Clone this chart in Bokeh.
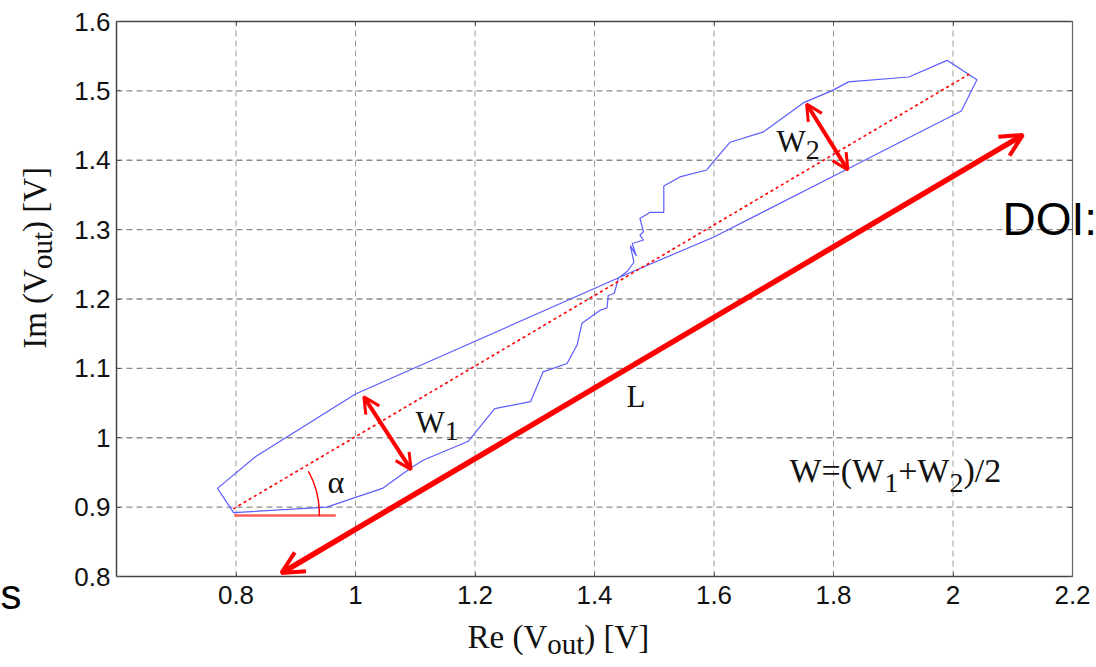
from bokeh.plotting import figure
from bokeh.models import (Range1d, LinearAxis, FixedTicker, CustomJSTickFormatter,
                          Label, Arrow, OpenHead)
from bokeh.embed import file_html
from bokeh.resources import INLINE

# ---------------- data ----------------
x_ticks = [0.8, 1.0, 1.2, 1.4, 1.6, 1.8, 2.0, 2.2]
x_tick_labels = ["0.8", "1", "1.2", "1.4", "1.6", "1.8", "2", "2.2"]
y_ticks = [0.8, 0.9, 1.0, 1.1, 1.2, 1.3, 1.4, 1.5, 1.6]
y_tick_labels = ["0.8", "0.9", "1", "1.1", "1.2", "1.3", "1.4", "1.5", "1.6"]
x_limits = [0.6, 2.2]
y_limits = [0.8, 1.6]

# measured V_out trajectory (Re, Im)
loop_re = [0.796, 0.952, 1.000, 1.045, 1.092, 1.114, 1.189, 1.233, 1.293, 1.314,
           1.354, 1.371, 1.379, 1.410, 1.421, 1.423, 1.433, 1.435, 1.440, 1.455,
           1.466, 1.460, 1.470, 1.463, 1.482, 1.476, 1.482, 1.476, 1.493, 1.516,
           1.516, 1.543, 1.588, 1.602, 1.627, 1.683, 1.750, 1.797, 1.825, 1.926,
           1.990, 2.040, 2.014, 1.825, 1.599, 1.468, 1.000, 0.833, 0.769, 0.796]
loop_im = [0.892, 0.900, 0.914, 0.927, 0.956, 0.968, 0.995, 1.042, 1.052, 1.095,
           1.107, 1.134, 1.165, 1.184, 1.187, 1.205, 1.208, 1.214, 1.230, 1.240,
           1.253, 1.277, 1.262, 1.280, 1.285, 1.292, 1.297, 1.316, 1.325, 1.325,
           1.363, 1.376, 1.386, 1.401, 1.426, 1.441, 1.483, 1.500, 1.513, 1.520,
           1.544, 1.516, 1.471, 1.388, 1.289, 1.241, 1.063, 0.973, 0.927, 0.892]

# principal axis (dotted) of the trajectory
axis_re = [0.7955, 2.027]
axis_im = [0.8975, 1.524]

# horizontal reference for the angle alpha
ref_re = [0.797, 0.967]
ref_im = [0.888, 0.888]
alpha_center_re = [0.7955]
alpha_center_im = [0.8912]

# arrows: W1, W2 and L  (start re, start im, end re, end im)
w1_arrow = [1.014, 1.059, 1.093, 0.954]
w2_arrow = [1.755, 1.481, 1.824, 1.386]
l_arrow = [0.876, 0.805, 2.117, 1.4365]

# ---------------- layout: page pixel <-> data ----------------
W, H = 1096, 667
PX0, SX = 116.0, 597.5      # page x of Re=0.6, pixels per volt
PY0, SY = 21.0, 693.75      # page y of Im=1.6, pixels per volt


def dx(px):
    return x_limits[0] + (px - PX0) / SX


def dy(py):
    return y_limits[1] - (py - PY0) / SY


p = figure(width=W, height=H, x_range=Range1d(dx(0), dx(W)), y_range=Range1d(dy(H), dy(0)),
           output_backend="svg", toolbar_location=None, title=None,
           x_axis_location=None, y_axis_location=None,
           min_border_left=0, min_border_right=0, min_border_top=0, min_border_bottom=0)
p.outline_line_color = None
p.background_fill_color = "white"
p.border_fill_color = "white"
p.xgrid.visible = False
p.ygrid.visible = False


def fmt(tick_values, tick_texts):
    return CustomJSTickFormatter(args=dict(tv=tick_values, tl=tick_texts), code="""
        for (let i = 0; i < tv.length; i++) {
            if (Math.abs(tv[i] - tick) < 1e-9) { return tl[i]; }
        }
        return "";
    """)


def make_axis(tvals, tlabs, loc, bounds, standoff, show_labels, color, width):
    ax = LinearAxis(fixed_location=loc, bounds=tuple(bounds),
                    ticker=FixedTicker(ticks=tvals), formatter=fmt(tvals, tlabs),
                    major_label_text_font="Liberation Sans",
                    major_label_text_font_size="26px" if show_labels else "0px",
                    major_label_text_color="#111111" if show_labels else None,
                    major_label_standoff=standoff,
                    axis_line_color=color, axis_line_width=width,
                    major_tick_in=4, major_tick_out=0, major_tick_line_color="#555555",
                    minor_tick_line_color=None)
    return ax


p.add_layout(make_axis(x_ticks, x_tick_labels, y_limits[0], x_limits, 9, True, "#444444", 1.5), "below")
p.add_layout(make_axis(y_ticks, y_tick_labels, x_limits[0], y_limits, 6, True, "#444444", 1.5), "left")
p.add_layout(make_axis(x_ticks, x_tick_labels, y_limits[1], x_limits, 0, False, "#444444", 1.5), "above")
p.add_layout(make_axis(y_ticks, y_tick_labels, x_limits[1], y_limits, 0, False, "#666666", 1.2), "right")

# dashed grid at the interior ticks
gx = [t for t in x_ticks if x_limits[0] < t < x_limits[1]]
gy = [t for t in y_ticks if y_limits[0] < t < y_limits[1]]
p.segment(x0=gx, y0=[y_limits[0]] * len(gx), x1=gx, y1=[y_limits[1]] * len(gx),
          line_color="#9a9a9a", line_width=1, line_dash="6 4")
p.segment(x0=[x_limits[0]] * len(gy), y0=gy, x1=[x_limits[1]] * len(gy), y1=gy,
          line_color="#8c8c8c", line_width=1.4, line_dash="6 4")

# ---------------- glyphs ----------------
p.line(loop_re, loop_im, line_color="#5c5cff", line_width=1.2)
p.line(axis_re, axis_im, line_color="#ff0000", line_width=1.6, line_dash="3 3")
p.line(ref_re, ref_im, line_color="#ff5c5c", line_width=2.5)
p.arc(x=alpha_center_re, y=alpha_center_im, radius=86, radius_units="screen",
      start_angle=-0.03, end_angle=0.51, line_color="#ff0000", line_width=1.5)

for (x0, y0, x1, y1), lw, hs, hlw in ((w1_arrow, 4, 16, 3), (w2_arrow, 4, 16, 3),
                                      (l_arrow, 5.5, 22, 4)):
    p.add_layout(Arrow(x_start=x0, y_start=y0, x_end=x1, y_end=y1,
                       line_color="#ff0000", line_width=lw,
                       start=OpenHead(size=hs, line_color="#ff0000", line_width=hlw),
                       end=OpenHead(size=hs, line_color="#ff0000", line_width=hlw)))

# ---------------- texts ----------------
# approximate advance widths (em) of Liberation Serif, used to chain text pieces
ADV = {"W": 0.944, "=": 0.564, "(": 0.333, ")": 0.333, "+": 0.564, "/": 0.278,
       "1": 0.5, "2": 0.5, " ": 0.25, "R": 0.667, "e": 0.444, "V": 0.722,
       "o": 0.5, "u": 0.5, "t": 0.278, "[": 0.333, "]": 0.333, "I": 0.333, "m": 0.778}
MID = 0.36   # the label anchor lands at the middle of the text box: baseline lies 0.36 em below it


def width(text, size):
    return sum(ADV.get(c, 0.5) for c in text) * size


def lab(text, px, py, size, font="Liberation Serif", angle=0.0, color="#111111"):
    """px, py: page position of the start of the text's baseline"""
    if angle:
        ax_, ay_ = px - MID * size, py
    else:
        ax_, ay_ = px, py - MID * size
    p.add_layout(Label(x=dx(ax_), y=dy(ay_), text=text, text_font=font,
                       text_font_size=f"{size}px", text_color=color, angle=angle,
                       text_align="left", text_baseline="alphabetic"))


def rich_h(pieces, px, py):
    """pieces: (text, size, baseline shift in px)"""
    for text, size, shift in pieces:
        lab(text, px, py + shift, size)
        px += width(text, size)


def rich_v(pieces, px, py):
    for text, size, shift in pieces:
        lab(text, px + shift, py, size, angle=1.5708)
        py -= width(text, size)


# axis titles
rich_h([("Re (V", 33, 0), ("out", 29, 6), (") [V]", 33, 0)], 467, 648.3)
rich_v([("Im (V", 33, 0), ("out", 29, 5), (") [V]", 33, 0)], 46.7, 348.3)

# annotations inside the plot
rich_h([("W", 31, 0), ("1", 28, 7.5)], 415, 432.7)
rich_h([("W", 31, 0), ("2", 28, 7)], 776, 152.3)
lab("L", 626, 406.7, 31)
lab("\u03b1", 327, 492.7, 32)
rich_h([("W=(W", 34, 0), ("1", 28, 10), ("+W", 34, 0), ("2", 28, 10), (")/2", 34, 0)], 789, 482.7)

# fragments of surrounding page text
lab("DOI:", 1002, 235, 46, font="Liberation Sans", color="#000000")
lab("s", 0, 609, 42, font="Liberation Sans", color="#000000")

open("out.html", "w").write(file_html(p, INLINE))
